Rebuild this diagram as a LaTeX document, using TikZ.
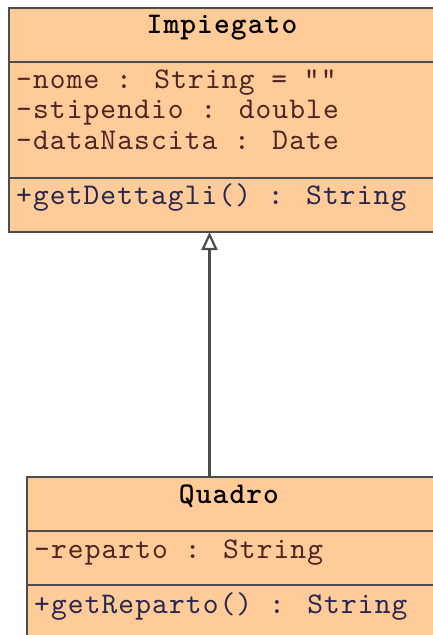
\documentclass[tikz,border=0pt]{standalone}
\usepackage{fontspec}
\usepackage{tikz}
\usetikzlibrary{arrows.meta}

\newfontfamily\umlmono{lmmono10-regular.otf}[LetterSpace=3.7, BoldFont=lmmonolt10-bold.otf]

\definecolor{classfill}{HTML}{FFCB98}
\definecolor{classline}{HTML}{4D4D4D}
\definecolor{attrtext}{HTML}{4F2424}
\definecolor{methtext}{HTML}{262650}

\tikzset{
  compart/.style={draw=classline, fill=classfill, line width=2pt, anchor=north west, inner sep=0pt, outer sep=0pt},
  classname/.style={anchor=base, inner sep=0pt, font=\umlmono\fontsize{30}{31}\selectfont\bfseries},
  attr/.style={anchor=base west, inner sep=0pt, text=attrtext, font=\umlmono\fontsize{30}{31}\selectfont},
  meth/.style={anchor=base west, inner sep=0pt, text=methtext, font=\umlmono\fontsize{30}{31}\selectfont},
  extends/.style={draw=classline, line width=2.2pt, -{Triangle[open, length=18pt, width=16pt]}}
}

\begin{document}
\begin{tikzpicture}[x=1pt, y=-1pt]
        \useasboundingbox (0,0) rectangle (433,635);

        % class Impiegato
        \node[compart, minimum width=436pt, minimum height=54pt] (impName) at (9,8) {};
        \node[compart, minimum width=436pt, minimum height=116pt] (impAttrs) at (9,62) {};
        \node[compart, minimum width=436pt, minimum height=54pt] (impMeths) at (9,178) {};
        \node[classname] (impTitle) at (222,33) {Impiegato};
        \node[attr] (impNome) at (16,88) {-nome : String = ""};
        \node[attr] (impStipendio) at (16,118.5) {-stipendio : double};
        \node[attr] (impData) at (16,149) {-dataNascita : Date};
        \node[meth] (impDettagli) at (16,204) {+getDettagli() : String};

        % class Quadro
        \node[compart, minimum width=436pt, minimum height=54pt] (quaName) at (27,477) {};
        \node[compart, minimum width=436pt, minimum height=54pt] (quaAttrs) at (27,531) {};
        \node[compart, minimum width=436pt, minimum height=80pt] (quaMeths) at (27,585) {};
        \node[classname] (quaTitle) at (229,503) {Quadro};
        \node[attr] (quaReparto) at (34,558) {-reparto : String};
        \node[meth] (quaGetReparto) at (34,613) {+getReparto() : String};

        % Quadro extends Impiegato
        \coordinate (inhTop) at (209.5,232);
        \draw[extends] (inhTop |- quaName.north) -- (inhTop);
    \end{tikzpicture}
\end{document}
